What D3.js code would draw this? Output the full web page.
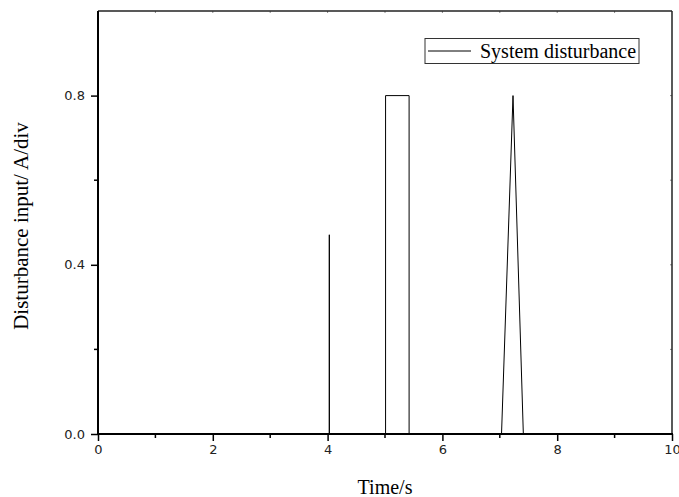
<!DOCTYPE html>
<html>
<head>
<meta charset="utf-8">
<script src="https://cdn.jsdelivr.net/npm/d3@7"></script>
<style>
  html, body { margin: 0; padding: 0; background: #fff; }
  svg { display: block; }
</style>
</head>
<body>
<svg id="chart" width="679" height="497"></svg>
<script>
// ---- Data ----
const timeValues = [0, 4.03, 4.03, 4.03, 5.01, 5.01, 5.42, 5.42, 7.03, 7.23, 7.41, 10];
const disturbanceValues = [0, 0, 0.471, 0, 0, 0.8, 0.8, 0, 0, 0.8, 0, 0];
const xTickLabels = [0, 2, 4, 6, 8, 10];
const yTickLabels = [0.0, 0.4, 0.8];
const seriesName = "System disturbance";
const xTitle = "Time/s";
const yTitle = "Disturbance input/ A/div";

const svg = d3.select("#chart");
const L = 98, R = 672, T = 11, B = 434;

const x = d3.scaleLinear().domain([0, 10]).range([L, R]);
const y = d3.scaleLinear().domain([0, 1.0]).range([B, T]);

const tickFont = "'DejaVu Sans', sans-serif";
const serif = "'Liberation Serif', 'Times New Roman', serif";

// Bottom axis
const xAxis = svg.append("g").attr("transform", `translate(0,${B})`)
  .call(d3.axisBottom(x).tickValues(xTickLabels).tickFormat(d3.format("d")).tickSizeOuter(0).tickSize(7).tickPadding(4));
xAxis.select(".domain").remove();
xAxis.selectAll("text").attr("font-family", tickFont).attr("font-size", 13).attr("fill", "#222");
xAxis.selectAll("line").attr("stroke", "#000").attr("stroke-width", 1.5);
// minor x ticks
svg.append("g").selectAll("line").data([1, 3, 5, 7, 9]).join("line")
  .attr("x1", d => x(d)).attr("x2", d => x(d)).attr("y1", B).attr("y2", B + 4)
  .attr("stroke", "#000").attr("stroke-width", 1.5);

// Left axis
const yAxis = svg.append("g").attr("transform", `translate(${L},0)`)
  .call(d3.axisLeft(y).tickValues(yTickLabels).tickFormat(d3.format(".1f")).tickSizeOuter(0).tickSize(7).tickPadding(6));
yAxis.select(".domain").remove();
yAxis.selectAll("text").attr("font-family", tickFont).attr("font-size", 13).attr("fill", "#222");
yAxis.selectAll("line").attr("stroke", "#000").attr("stroke-width", 1.5);
svg.append("g").selectAll("line").data([0.2, 0.6]).join("line")
  .attr("x1", L - 4).attr("x2", L).attr("y1", d => y(d)).attr("y2", d => y(d))
  .attr("stroke", "#000").attr("stroke-width", 1.5);

// Top and right inner ticks
svg.append("g").selectAll("line").data(d3.range(1, 10)).join("line")
  .attr("x1", d => x(d)).attr("x2", d => x(d)).attr("y1", T).attr("y2", T + 2)
  .attr("stroke", "#888").attr("stroke-width", 1);
svg.append("g").selectAll("line").data([0.2, 0.4, 0.6, 0.8]).join("line")
  .attr("x1", R - 2).attr("x2", R).attr("y1", d => y(d)).attr("y2", d => y(d))
  .attr("stroke", "#888").attr("stroke-width", 1);

// Data line
const line = d3.line().x((d, i) => x(timeValues[i])).y((d, i) => y(disturbanceValues[i]));
svg.append("path").datum(disturbanceValues)
  .attr("d", line).attr("fill", "none").attr("stroke", "#000").attr("stroke-width", 1);

// Frame
svg.append("line").attr("x1", L).attr("x2", R).attr("y1", T).attr("y2", T).attr("stroke", "#222").attr("stroke-width", 1.5);
svg.append("line").attr("x1", R).attr("x2", R).attr("y1", T).attr("y2", B).attr("stroke", "#222").attr("stroke-width", 1.5);
svg.append("line").attr("x1", L).attr("x2", L).attr("y1", T).attr("y2", B).attr("stroke", "#000").attr("stroke-width", 2);
svg.append("line").attr("x1", L - 1).attr("x2", R + 1).attr("y1", B).attr("y2", B).attr("stroke", "#000").attr("stroke-width", 2);

// Legend
const lg = svg.append("g");
lg.append("rect").attr("x", 425).attr("y", 38.5).attr("width", 214).attr("height", 25)
  .attr("fill", "#fff").attr("stroke", "#333").attr("stroke-width", 1);
lg.append("line").attr("x1", 428).attr("x2", 471).attr("y1", 51).attr("y2", 51)
  .attr("stroke", "#000").attr("stroke-width", 1);
lg.append("text").attr("x", 480).attr("y", 57.5).attr("font-family", serif).attr("font-size", 20)
  .attr("fill", "#000").text(seriesName);

// Axis titles
svg.append("text").attr("x", (L + R) / 2).attr("y", 494).attr("text-anchor", "middle")
  .attr("font-family", serif).attr("font-size", 20).attr("fill", "#000").text(xTitle);
svg.append("text").attr("transform", `translate(28,226) rotate(-90)`).attr("text-anchor", "middle")
  .attr("font-family", serif).attr("font-size", 21).attr("fill", "#000").text(yTitle);
</script>
</body>
</html>
